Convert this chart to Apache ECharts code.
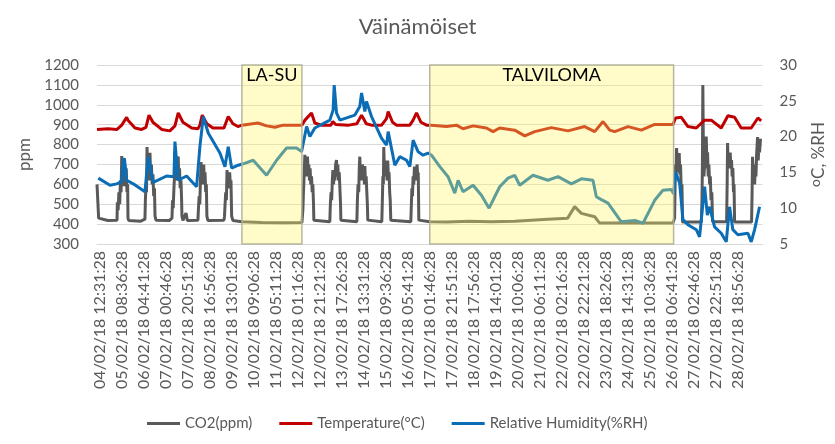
<!DOCTYPE html>
<html><head><meta charset="utf-8">
<script src="https://cdn.jsdelivr.net/npm/echarts@6/dist/echarts.min.js"></script>
<style>html,body{margin:0;padding:0;background:#fff}#c{width:835px;height:444px}</style>
</head><body><div id="c"></div>
<script>
// time axis unit: hours from the chart's left edge (first sample)
const tickLabels = ["04/02/18 12:31:28","05/02/18 08:36:28","06/02/18 04:41:28","07/02/18 00:46:28","07/02/18 20:51:28","08/02/18 16:56:28","09/02/18 13:01:28","10/02/18 09:06:28","11/02/18 05:11:28","12/02/18 01:16:28","12/02/18 21:21:28","13/02/18 17:26:28","14/02/18 13:31:28","15/02/18 09:36:28","16/02/18 05:41:28","17/02/18 01:46:28","17/02/18 21:51:28","18/02/18 17:56:28","19/02/18 14:01:28","20/02/18 10:06:28","21/02/18 06:11:28","22/02/18 02:16:28","22/02/18 22:21:28","23/02/18 18:26:28","24/02/18 14:31:28","25/02/18 10:36:28","26/02/18 06:41:28","27/02/18 02:46:28","27/02/18 22:51:28","28/02/18 18:56:28"];
const tickStartHour = 2.7;
const tickStepHours = 20.0833;
const timeMax = 608;

const periods = [
  {name: "LA-SU", from: 132.4, to: 187.2},
  {name: "TALVILOMA", from: 304.0, to: 526.8}
];

const co2 = [[0,600],[1.5,430],[10,418],[18.3,420],[18.6,510],[19.3,470],[20.0,560],[20.7,500],[21.4,620],[22.0,560],[22.6,742],[23.3,600],[24.0,690],[24.6,590],[25.3,700],[26.0,620],[26.7,680],[27.4,560],[28.0,600],[28.3,430],[29,418],[40,415],[43.8,425],[44.2,520],[44.8,600],[45.2,560],[45.7,788],[46.3,640],[46.9,720],[47.5,620],[48.0,700],[48.4,758],[49.0,640],[49.7,700],[50.4,600],[51.1,650],[51.8,540],[52.5,580],[53.0,440],[53.9,420],[66,418],[68.5,430],[69.0,520],[69.6,480],[70.3,582],[70.8,640],[71.2,768],[71.8,620],[72.4,700],[73.0,640],[73.6,720],[74.2,740],[74.8,620],[75.4,680],[76.0,580],[76.7,620],[77.3,520],[77.6,440],[78.5,418],[80.3,420],[81.3,456],[81.9,440],[82.5,418],[92.2,420],[92.7,480],[93.3,540],[93.9,500],[94.5,620],[95.1,712],[95.7,600],[96.3,680],[96.9,620],[97.5,700],[98.1,600],[98.7,660],[99.3,560],[99.9,600],[100.4,440],[101.3,418],[116,420],[116.5,440],[117,500],[117.6,560],[118.2,520],[118.8,672],[119.4,600],[120.0,650],[120.6,580],[121.2,660],[121.8,600],[122.4,620],[123.0,440],[124.2,418],[132.4,412],[150,408],[170,407],[187.2,408],[188.1,471],[188.6,560],[189.2,640],[189.9,748],[190.5,650],[191.1,720],[191.7,640],[192.3,740],[192.9,660],[193.5,700],[194.1,620],[194.7,680],[195.3,600],[196.0,640],[196.6,560],[197.2,600],[197.8,500],[198.1,420],[199,410],[212.7,412],[213.2,500],[213.8,560],[214.4,520],[215.0,620],[215.5,672],[216.1,600],[216.7,660],[217.3,620],[218.0,700],[218.8,722],[219.4,640],[220.0,700],[220.6,620],[221.3,660],[221.9,580],[222.5,500],[222.8,420],[223.5,410],[237.4,412],[237.9,520],[238.5,600],[239.1,560],[239.6,680],[240.1,739],[240.7,640],[241.3,700],[241.9,620],[242.5,700],[243.1,640],[243.7,680],[244.3,600],[244.7,692],[245.3,600],[245.9,640],[246.5,560],[247.0,500],[247.4,420],[248,410],[260.2,412],[260.7,520],[261.2,640],[261.6,600],[262.0,788],[262.6,660],[263.2,720],[263.8,640],[264.4,700],[265.0,620],[265.6,720],[266.2,640],[266.8,660],[267.4,560],[267.9,520],[268.4,420],[269,410],[286.7,412],[287.2,500],[287.7,580],[288.2,540],[288.8,640],[289.4,600],[290.0,690],[290.6,620],[291.2,680],[291.8,620],[292.4,700],[293.0,640],[293.5,660],[294.0,420],[295,410],[304.0,412],[320,410],[340,415],[360,412],[381.6,414],[412,425],[430,430],[436.4,488],[442.5,454],[454.7,437],[459.2,405],[490,406],[526.2,405],[527.7,430],[528.2,620],[528.6,700],[529.1,660],[529.5,783],[530.1,680],[530.7,740],[531.3,660],[531.9,757],[532.5,650],[533.1,700],[533.8,560],[534.4,600],[535.0,410],[552.1,410],[552.7,520],[553.1,700],[553.5,1100],[554.0,760],[554.5,640],[555.1,700],[555.7,760],[556.2,680],[556.6,840],[557.2,700],[557.8,761],[558.4,640],[559.0,700],[559.7,600],[560.3,640],[561.0,520],[561.7,560],[562.4,412],[575.2,412],[575.7,600],[576.1,808],[576.7,680],[577.3,740],[577.9,700],[578.5,760],[579.1,680],[579.7,722],[580.3,640],[580.9,682],[581.5,560],[582.0,600],[582.5,410],[598.0,410],[598.5,560],[598.9,738],[599.5,640],[600.1,700],[600.8,600],[601.4,680],[602.0,640],[602.7,760],[603.5,838],[604.1,720],[604.7,800],[605.3,760],[606.2,830]];

const temperature = [[0,21.0],[10,21.1],[18.3,21.0],[22.6,21.6],[27.1,22.7],[28.3,22.3],[34.7,21.2],[40.8,21.0],[44.7,21.3],[47.5,23.0],[51.1,22.0],[59.1,21.0],[66.6,20.8],[71.2,21.5],[74.2,23.3],[78.5,22.0],[86.5,21.2],[92.2,21.1],[94.0,21.6],[96.1,23.0],[100.4,21.8],[105.9,21.2],[116.0,21.2],[119.9,22.8],[124.2,21.8],[128.7,21.4],[132.4,21.6],[147.0,21.9],[155,21.5],[162.5,21.3],[170,21.6],[187.2,21.6],[190,22.3],[196.0,23.3],[199.0,21.9],[205,21.6],[213.6,21.6],[215.5,22.1],[218,21.7],[230,21.6],[237.4,21.8],[241.7,23.0],[246,21.8],[250.8,21.6],[260,21.6],[264.5,22.5],[266.0,23.5],[270,22.0],[273.6,21.6],[285.8,21.6],[288.8,22.3],[291.9,23.3],[296,22.0],[301.0,21.6],[305.6,21.6],[319.3,21.4],[328.4,21.6],[334.4,21.1],[343.6,21.5],[355.8,21.2],[361.8,20.7],[367.9,21.2],[381.6,20.9],[390.8,20.1],[399.9,20.7],[415.1,21.25],[430.3,20.8],[445.5,21.4],[454.7,20.7],[462.3,22.1],[468.4,20.9],[473.0,20.7],[485.1,21.4],[497.3,20.9],[509.5,21.7],[526.2,21.7],[528.6,22.6],[533.8,22.7],[539.9,21.4],[547.5,21.2],[555.1,22.3],[561.2,22.3],[570.3,21.2],[576.4,22.9],[582.5,22.7],[588.5,21.2],[597.7,21.2],[603.8,22.6],[606.8,22.2]];

const humidity = [[1.2,14.2],[11.9,13.2],[18.0,13.4],[22.6,13.7],[24.0,16.3],[25.0,17.0],[27.1,13.9],[33.1,13.4],[43.8,12.3],[46.8,17.2],[51.4,13.6],[63.6,14.5],[70.3,14.4],[71.2,19.3],[74.2,13.9],[81.9,14.5],[91.0,13.0],[94.0,18.6],[97.1,22.8],[101.6,20.5],[112.3,17.7],[116.9,15.8],[119.9,18.6],[123.0,15.6],[129.0,16.0],[133.6,16.2],[142.7,16.7],[154.9,14.6],[164.1,16.7],[173.2,18.4],[182.3,18.4],[186.9,17.9],[188.5,18.1],[191.5,21.4],[194.5,20.0],[199.0,21.2],[212.7,22.3],[215.7,23.7],[216.7,27.2],[218.8,23.3],[221.9,22.3],[235.6,23.0],[240.1,24.2],[241.7,26.1],[244.7,23.5],[246.2,24.9],[250.8,22.8],[259.9,19.8],[264.5,18.8],[266.0,20.7],[272.1,16.0],[276.6,17.2],[282.8,16.7],[285.8,15.8],[288.8,19.5],[293.3,17.9],[297.9,17.4],[302.5,17.7],[305.6,17.4],[313.2,15.8],[320.7,14.4],[326.9,12.1],[329.9,13.9],[334.4,12.3],[343.6,13.2],[351.2,11.8],[358.2,10.0],[367.9,13.0],[375.5,14.2],[381.6,14.6],[386.2,13.2],[398.3,14.6],[412.0,13.9],[421.2,14.4],[433.4,13.4],[442.5,14.1],[453.1,13.9],[456.2,11.6],[460.8,11.2],[466.9,10.7],[479.0,8.1],[491.4,8.3],[498.8,7.9],[509.5,11.1],[517.0,12.5],[524.7,12.6],[526.8,12.0],[528.6,15.1],[532.3,13.5],[535.3,8.4],[539.9,7.7],[547.5,7.0],[550.5,6.0],[552.1,8.4],[555.1,13.0],[557.6,9.05],[559.7,10.2],[564.2,7.4],[570.3,6.5],[574.9,5.3],[577.9,10.2],[580.9,7.0],[585.5,6.3],[594.7,6.5],[597.7,5.3],[600.8,7.0],[605.3,10.2]];

const FONT = 'Lato';
const GREY = '#595959';
const tickValues = tickLabels.map((s, i) => tickStartHour + i * tickStepHours);

const chart = echarts.init(document.getElementById('c'), null, {renderer: 'canvas'});
chart.setOption({
  animation: false,
  backgroundColor: '#fff',
  title: {text: 'Väinämöiset', left: 'center', top: 11,
    textStyle: {fontFamily: FONT, fontSize: 22, fontWeight: 'normal', color: GREY}},
  grid: {left: 97, right: 72, top: 65, bottom: 200},
  legend: {
    bottom: 8, left: 142, itemWidth: 33, itemHeight: 3, itemGap: 27,
    icon: 'rect',
    textStyle: {fontFamily: FONT, fontSize: 15, color: GREY},
    data: ['CO2(ppm)', 'Temperature(°C)', 'Relative Humidity(%RH)']
  },
  xAxis: {
    type: 'value', min: 0, max: timeMax,
    axisLine: {show: true, lineStyle: {color: '#d9d9d9', width: 1}},
    axisTick: {show: false, customValues: tickValues},
    splitLine: {show: false},
    axisLabel: {
      customValues: tickValues,
      rotate: 90, margin: 7, color: GREY, fontFamily: FONT, fontSize: 16,
      formatter: function (v) {
        const i = Math.round((v - tickStartHour) / tickStepHours);
        if (i < 0 || i >= tickLabels.length) return '';
        if (Math.abs(v - tickValues[i]) > 0.5) return '';
        return tickLabels[i];
      }
    }
  },
  yAxis: [
    {type: 'value', min: 300, max: 1200, interval: 100,
      name: 'ppm', nameLocation: 'middle', nameGap: 44, nameRotate: 90,
      nameTextStyle: {fontFamily: FONT, fontSize: 17, color: GREY},
      axisLine: {show: false}, axisTick: {show: false},
      axisLabel: {color: GREY, fontFamily: FONT, fontSize: 15, margin: 18, formatter: v => String(v)},
      splitLine: {lineStyle: {color: '#d9d9d9', width: 1}}},
    {type: 'value', min: 5, max: 30, interval: 5, position: 'right',
      name: '{s|o}C, %RH', nameLocation: 'middle', nameGap: 46, nameRotate: 90,
      nameTextStyle: {fontFamily: FONT, fontSize: 17, color: GREY,
        rich: {s: {fontFamily: FONT, fontSize: 14, color: GREY, verticalAlign: 'top', padding: [0, 0, 6, 0]}}},
      axisLine: {show: false}, axisTick: {show: false},
      axisLabel: {color: GREY, fontFamily: FONT, fontSize: 15, margin: 17, formatter: v => String(v)},
      splitLine: {show: false}}
  ],
  series: [
    {name: 'CO2(ppm)', type: 'line', yAxisIndex: 0, data: co2, showSymbol: false, symbol: 'none',
      lineStyle: {color: '#595959', width: 3}, itemStyle: {color: '#595959'}, z: 2,
      markArea: {
        silent: true, z: 10,
        itemStyle: {color: 'rgba(255,245,100,0.35)', borderColor: 'rgba(175,175,150,0.9)', borderWidth: 1.5},
        label: {show: true, position: 'insideTop', distance: 2, color: '#000', fontFamily: FONT, fontSize: 18},
        data: periods.map(p => [{name: p.name, xAxis: p.from}, {xAxis: p.to}])
      }},
    {name: 'Temperature(°C)', type: 'line', yAxisIndex: 1, data: temperature, showSymbol: false, symbol: 'none',
      lineStyle: {color: '#c00000', width: 3}, itemStyle: {color: '#c00000'}, z: 3},
    {name: 'Relative Humidity(%RH)', type: 'line', yAxisIndex: 1, data: humidity, showSymbol: false, symbol: 'none',
      lineStyle: {color: '#0a6db5', width: 3}, itemStyle: {color: '#0a6db5'}, z: 4}
  ]
});
</script></body></html>
